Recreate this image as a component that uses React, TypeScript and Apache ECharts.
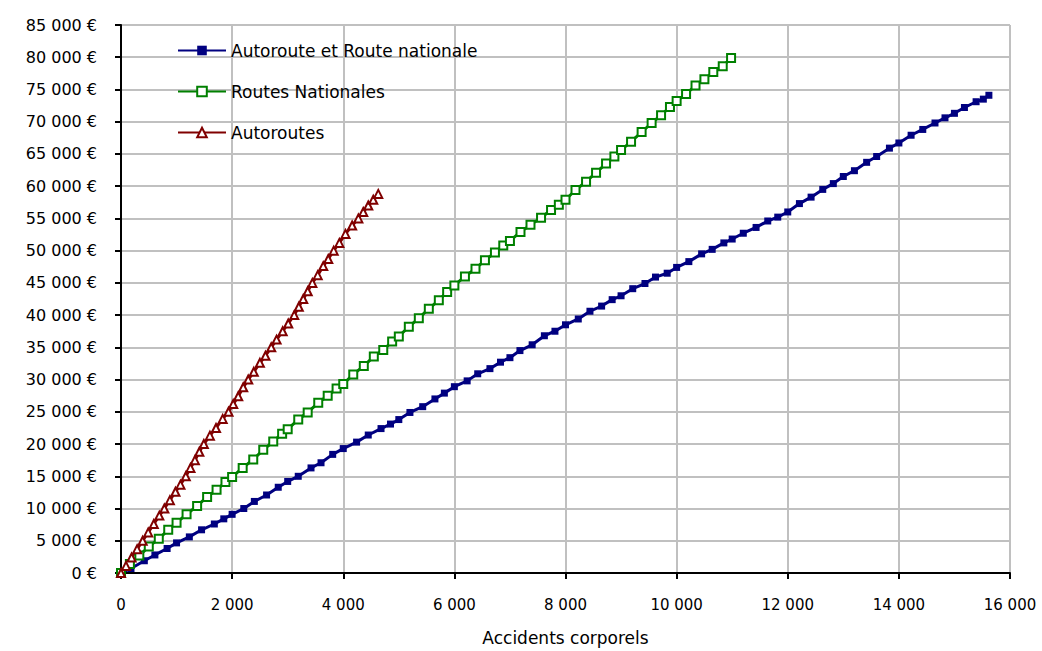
import React, { useEffect, useRef } from "react";
import * as echarts from "echarts";

const seriesNames = ["Autoroute et Route nationale", "Routes Nationales", "Autoroutes"];

const xTicks = [0, 2000, 4000, 6000, 8000, 10000, 12000, 14000, 16000];
const yTicks = [0, 5000, 10000, 15000, 20000, 25000, 30000, 35000, 40000, 45000, 50000, 55000, 60000, 65000, 70000, 75000, 80000, 85000];

const autorouteEtRN: [number, number][] = [
  [0, 0], [180, 700], [420, 1900], [610, 2800], [830, 3800], [1000, 4670],
  [1230, 5600], [1450, 6700], [1680, 7600], [1850, 8400], [2000, 9100],
  [2210, 10000], [2400, 11100], [2620, 12100], [2830, 13300], [3000, 14200],
  [3190, 15000], [3420, 16300], [3600, 17100], [3810, 18400], [4000, 19300],
  [4240, 20300], [4450, 21400], [4680, 22400], [4850, 23100], [5000, 23800],
  [5200, 24900], [5430, 25800], [5650, 27000], [5820, 27900], [6000, 28900],
  [6230, 29800], [6420, 30900], [6640, 31700], [6830, 32700], [7000, 33400],
  [7180, 34500], [7400, 35400], [7620, 36800], [7810, 37500], [8000, 38500],
  [8230, 39400], [8440, 40600], [8650, 41400], [8840, 42400], [9000, 43000],
  [9210, 44100], [9430, 44900], [9620, 45900], [9830, 46500], [10000, 47400],
  [10220, 48300], [10450, 49500], [10640, 50200], [10850, 51200], [11000, 51800],
  [11200, 52700], [11430, 53600], [11640, 54600], [11820, 55200], [12000, 56000],
  [12210, 57300], [12420, 58300], [12630, 59500], [12820, 60400], [13000, 61500],
  [13200, 62400], [13420, 63700], [13600, 64600], [13830, 65900], [14000, 66700],
  [14220, 67900], [14430, 68800], [14650, 69800], [14830, 70600], [15000, 71300],
  [15180, 72200], [15390, 73100], [15520, 73500], [15620, 74100],
];

const routesNationales: [number, number][] = [
  [0, 0], [160, 1400], [330, 2700], [500, 4100], [680, 5300], [850, 6700], [1000, 7800],
  [1180, 9100], [1370, 10400], [1550, 11800], [1720, 12900], [1880, 14100], [2000, 14900],
  [2190, 16300], [2380, 17600], [2560, 19100], [2740, 20400], [2900, 21600], [3000, 22300],
  [3190, 23800], [3360, 24900], [3550, 26400], [3720, 27500], [3880, 28600], [4000, 29300],
  [4180, 30800], [4370, 32100], [4550, 33600], [4720, 34600], [4880, 35900], [5000, 36700],
  [5180, 38200], [5360, 39500], [5540, 41000], [5720, 42300], [5870, 43600], [6000, 44600],
  [6190, 46000], [6380, 47200], [6550, 48500], [6730, 49700], [6880, 50800], [7000, 51500],
  [7190, 52900], [7370, 54000], [7560, 55100], [7740, 56300], [7880, 57100], [8000, 57900],
  [8180, 59400], [8370, 60700], [8550, 62100], [8730, 63500], [8880, 64600], [9000, 65600],
  [9180, 66900], [9370, 68400], [9550, 69800], [9720, 71000], [9880, 72300], [10000, 73200],
  [10170, 74300], [10340, 75600], [10500, 76600], [10660, 77700], [10830, 78600], [10980, 79900],
];

const autoroutes: [number, number][] = [
  [0, 0], [90, 1100], [190, 2400], [290, 3700], [390, 5000], [490, 6300], [590, 7600], [690, 8900], [780, 10000],
  [880, 11300], [980, 12600], [1070, 13700], [1166, 15000], [1250, 16300], [1330, 17500], [1410, 18800], [1491, 20000],
  [1600, 21300], [1710, 22500], [1830, 23900], [1935, 25000], [2020, 26200], [2110, 27400], [2200, 28800], [2290, 30000],
  [2390, 31200], [2500, 32600], [2600, 33700], [2704, 35000], [2800, 36200], [2910, 37500], [3010, 38700], [3118, 40000],
  [3200, 41300], [3280, 42500], [3360, 43700], [3444, 45000], [3540, 46200], [3640, 47600], [3730, 48700], [3828, 50000],
  [3930, 51200], [4040, 52600], [4160, 53900], [4272, 55000], [4360, 56000], [4450, 57000], [4540, 57900], [4630, 58800],
];

const colors = ["#000080", "#008000", "#800000"];
const FONT = "DejaVu Sans";

const fmtX = (v: number) => (v === 0 ? "0" : `${Math.floor(v / 1000)} 000`);
const fmtY = (v: number) => (v === 0 ? "0 €" : `${Math.floor(v / 1000)} 000 €`);

export default function App() {
  const ref = useRef<HTMLDivElement>(null);
  useEffect(() => {
    if (!ref.current) return;
    const chart = echarts.init(ref.current, undefined, { renderer: "svg" });
    chart.setOption({
      animation: false,
      backgroundColor: "#ffffff",
      color: colors,
      grid: { left: 121, right: 32, top: 25, bottom: 74, containLabel: false },
      legend: {
        orient: "vertical",
        left: 172,
        top: 37,
        itemWidth: 48,
        itemHeight: 12,
        itemGap: 24,
        textStyle: { fontFamily: FONT, fontSize: 17, color: "#000" },
        data: seriesNames,
      },
      xAxis: {
        type: "value",
        min: xTicks[0],
        max: xTicks[xTicks.length - 1],
        interval: 2000,
        name: "Accidents corporels",
        nameLocation: "middle",
        nameGap: 56,
        nameTextStyle: { fontFamily: FONT, fontSize: 17, color: "#000" },
        axisLine: { show: true, lineStyle: { color: "#000", width: 2 } },
        axisTick: { show: true, length: 6, lineStyle: { color: "#000", width: 2 } },
        axisLabel: { fontFamily: FONT, fontSize: 15, color: "#000", margin: 24, formatter: fmtX },
        splitLine: { show: true, lineStyle: { color: "#c0c0c0", width: 2 } },
      },
      yAxis: {
        type: "value",
        min: yTicks[0],
        max: yTicks[yTicks.length - 1],
        interval: 5000,
        axisLine: { show: true, lineStyle: { color: "#000", width: 2 } },
        axisTick: { show: true, length: 6, lineStyle: { color: "#000", width: 2 } },
        axisLabel: { fontFamily: FONT, fontSize: 16, color: "#000", margin: 24, formatter: fmtY },
        splitLine: { show: true, lineStyle: { color: "#c0c0c0", width: 2 } },
      },
      series: [
        {
          name: seriesNames[0],
          type: "line",
          data: autorouteEtRN,
          symbol: "rect",
          symbolSize: 7,
          lineStyle: { width: 3, color: colors[0] },
          itemStyle: { color: colors[0] },
        },
        {
          name: seriesNames[1],
          type: "line",
          data: routesNationales,
          symbol: "emptyRect",
          symbolSize: 8,
          lineStyle: { width: 3, color: colors[1] },
          itemStyle: { color: colors[1], borderWidth: 2 },
        },
        {
          name: seriesNames[2],
          type: "line",
          data: autoroutes,
          symbol: "emptyTriangle",
          symbolSize: 8,
          lineStyle: { width: 3, color: colors[2] },
          itemStyle: { color: colors[2], borderWidth: 2 },
        },
      ],
    });
    return () => chart.dispose();
  }, []);
  return (
    <div
      ref={ref}
      style={{ position: "absolute", left: 0, top: 0, width: 1042, height: 651 }}
    />
  );
}
